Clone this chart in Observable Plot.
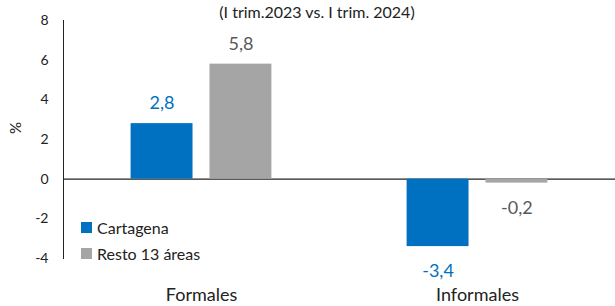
<!DOCTYPE html>
<html>
<head>
<meta charset="utf-8">
<script src="https://cdn.jsdelivr.net/npm/d3@7"></script>
<script src="https://cdn.jsdelivr.net/npm/@observablehq/plot@0.6"></script>
<style>
  html, body { margin: 0; padding: 0; background: #fff; }
  #wrap { position: relative; width: 615px; height: 306px; font-family: Lato, "Open Sans", sans-serif; }
  #title { position: absolute; left: 0; width: 634px; top: 2px; text-align: center; font-size: 16px; color: #222; }
  #ylab { position: absolute; left: 15px; top: 128px; transform: translate(-50%, -50%) rotate(-90deg); font-size: 15px; color: #222; }
  #legend { position: absolute; left: 81px; top: 214px; font-size: 16px; color: #222; }
  .item { display: flex; align-items: center; height: 26px; }
  .sw { width: 11px; height: 11px; margin-right: 5px; }
</style>
</head>
<body>
<div id="wrap">
  <div id="chart"></div>
  <div id="title"></div>
  <div id="ylab">%</div>
  <div id="legend"></div>
</div>
<script>
const titleText = "(I trim.2023 vs. I trim. 2024)";
const categories = ["Formales", "Informales"];
const series = ["Cartagena", "Resto 13 áreas"];
const cartagena = [2.8, -3.4];
const resto = [5.8, -0.2];
const yTicks = [-4, -2, 0, 2, 4, 6, 8];

const barColors = ["#0070C0", "#A5A5A5"];
const labelColors = ["#0070C0", "#595959"];

const values = [cartagena, resto];
const data = [];
series.forEach((s, si) => categories.forEach((c, ci) => data.push({cat: c, serie: s, value: values[si][ci]})));

const fmt = v => v.toFixed(1).replace(".", ",");

const marks = [
  Plot.axisFx({anchor: "bottom", tickSize: 0, tickPadding: 30, fontSize: 18, label: null}),
  Plot.ruleY([0], {stroke: "#222", strokeWidth: 1.3})
];
series.forEach((s, si) => {
  const sub = data.filter(d => d.serie === s);
  marks.push(Plot.barY(sub, {fx: "cat", x: "serie", y: "value", fill: barColors[si]}));
  marks.push(Plot.text(sub.filter(d => d.value >= 0), {fx: "cat", x: "serie", y: "value", text: d => fmt(d.value), dy: -20, fill: labelColors[si], fontSize: 18}));
  marks.push(Plot.text(sub.filter(d => d.value < 0), {fx: "cat", x: "serie", y: "value", text: d => fmt(d.value), dy: 25, fill: labelColors[si], fontSize: 18}));
});

const chart = Plot.plot({
  width: 615,
  height: 306,
  marginLeft: 62,
  marginRight: 0,
  marginTop: 20,
  marginBottom: 48,
  style: {fontFamily: "Lato, 'Open Sans', sans-serif", fontSize: "14px", color: "#222", background: "#fff"},
  fx: {domain: categories, padding: 0, label: null},
  x: {domain: series, axis: null, paddingInner: 0.215, paddingOuter: 0.857, round: false},
  y: {domain: [-4, 8], ticks: yTicks, tickSize: 0, tickPadding: 15, label: null, line: true, tickFormat: d => String(d)},
  marks
});
document.getElementById("chart").appendChild(chart);
document.getElementById("title").textContent = titleText;

const leg = document.getElementById("legend");
series.forEach((s, si) => {
  const it = document.createElement("div");
  it.className = "item";
  const sw = document.createElement("span");
  sw.className = "sw";
  sw.style.background = barColors[si];
  const tx = document.createElement("span");
  tx.textContent = s;
  it.appendChild(sw); it.appendChild(tx);
  leg.appendChild(it);
});
</script>
</body>
</html>
